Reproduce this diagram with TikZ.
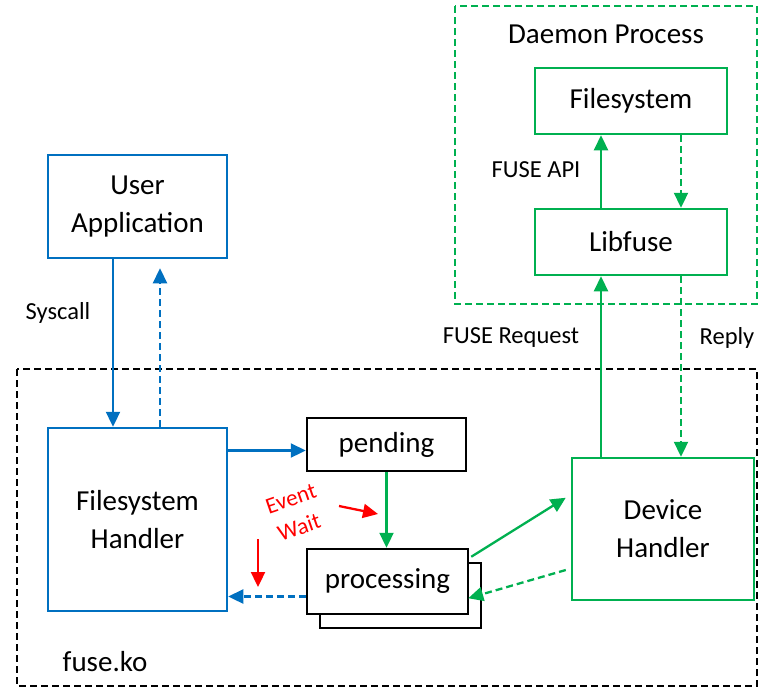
\documentclass[tikz,border=0pt]{standalone}
\usepackage{fontspec}
\setmainfont{Carlito}
\usetikzlibrary{arrows.meta,calc}
\definecolor{fblue}{HTML}{0070C0}
\definecolor{fgreen}{HTML}{00B050}
\definecolor{fred}{HTML}{FF0000}
\begin{document}
\begin{tikzpicture}[x=1pt,y=-1pt,
  box/.style={draw,line width=2.5pt,rectangle,inner sep=0pt,align=center,
    font=\fontsize{29}{37}\selectfont},
  bluebox/.style={box,draw=fblue},
  greenbox/.style={box,draw=fgreen},
  blackbox/.style={box,draw=black,fill=white},
  lbl/.style={font=\fontsize{24.5}{30}\selectfont,inner sep=0pt},
  redlbl/.style={font=\fontsize{23}{27}\selectfont,inner sep=0pt,text=fred,rotate=19},
  tip/.style={-{Triangle[length=15pt,width=14pt]}},
  conn/.style={tip,line width=2.3pt},
  dashline/.style={dash pattern=on 7pt off 4pt},
  region/.style={line width=2.2pt,dash pattern=on 7pt off 4pt}]
\useasboundingbox (0,0) rectangle (760,689);

% container regions
\draw[region,draw=fgreen] (455,6) rectangle (757,304);
\draw[region,draw=black] (17,369) rectangle (757,686);
\node[box,draw=none] (daemontitle) at (606,34) {Daemon Process};
\node[box,draw=none] (fuseko) at (105,662) {fuse.ko};

% boxes
\node[greenbox,minimum width=192pt,minimum height=66pt] (fs) at (631,101) {Filesystem};
\node[greenbox,minimum width=192pt,minimum height=66pt] (lib) at (631,242) {Libfuse};
\node[bluebox,minimum width=179pt,minimum height=103pt] (app) at (137.5,206.5) {User\\[1pt]Application};
\node[bluebox,minimum width=179pt,minimum height=183pt] (fsh) at (137.5,519.5) {Filesystem\\[1pt]Handler};
\node[blackbox,minimum width=159pt,minimum height=53pt] (pend) at (386.5,444.5) {pending};
\node[blackbox,minimum width=161pt,minimum height=65pt] (procback) at (400.5,595.5) {};
\node[blackbox,minimum width=161pt,minimum height=65pt] (proc) at (387.5,581.5) {processing};
\node[greenbox,minimum width=182pt,minimum height=142pt] (dev) at (663,529) {Device\\[1pt]Handler};

% labels
\node[lbl] (apilbl) at (536,170) {FUSE API};
\node[lbl] (reqlbl) at (511,338) {FUSE Request};
\node[lbl] (replbl) at (727,338) {Reply};
\node[lbl] (sclbl) at (58,313) {Syscall};
\node[redlbl] (evlbl) at (291,499) {Event};
\node[redlbl] (wtlbl) at (299,527) {Wait};

% daemon internal
\draw[conn,fgreen] ([xshift=-30pt]lib.north) -- ([xshift=-30pt]fs.south);
\draw[conn,fgreen,dashline] ([xshift=50pt]fs.south) -- ([xshift=50pt]lib.north);

% kernel <-> daemon
\draw[conn,fgreen] ([xshift=-62pt]dev.north) -- ([xshift=-30pt]lib.south);
\draw[conn,fgreen,dashline] ([xshift=50pt]lib.south) -- ([xshift=18pt]dev.north);

% application <-> kernel
\draw[conn,fblue] ([xshift=-24.5pt]app.south) -- ([xshift=-24.5pt]fsh.north);
\draw[conn,fblue,dashline,shorten >=9pt] ([xshift=22.5pt]fsh.north) -- ([xshift=22.5pt]app.south);

% request queues
\coordinate (pin) at ([yshift=-6pt]pend.west);
\draw[conn,fblue] (fsh.east |- pin) -- (pin);
\draw[conn,fgreen] (pend.south) -- (pend.south |- proc.north);
\draw[conn,fgreen] ([xshift=2pt,yshift=-9pt]proc.north east) -- ([xshift=-5pt,yshift=-41pt]dev.north west);
\draw[conn,fgreen,dashline] ([xshift=-5pt,yshift=-41pt]dev.west) -- ([xshift=-1pt,yshift=17pt]proc.south east);
\coordinate (pout) at ([yshift=-15pt]proc.west);
\draw[conn,fblue,dashline] (pout) -- (fsh.east |- pout);

% event wait markers
\coordinate (ev1) at (339,506);
\coordinate (ev2) at (378,514);
\draw[conn,fred] (ev1) -- (ev2);
\coordinate (wt1) at (258,539);
\coordinate (wt2) at (258,587);
\draw[conn,fred] (wt1) -- (wt2);
\end{tikzpicture}
\end{document}
